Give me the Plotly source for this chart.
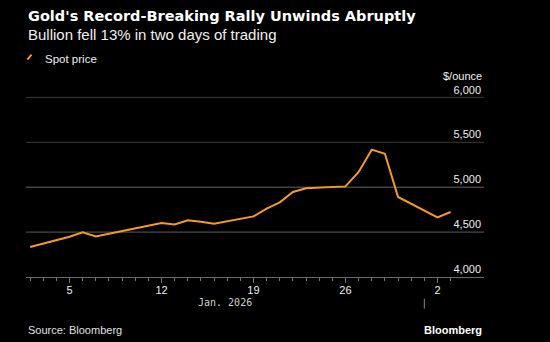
import plotly.graph_objects as go

# ---- data ----
dates = ["2026-01-02", "2026-01-05", "2026-01-06", "2026-01-07", "2026-01-08",
         "2026-01-09", "2026-01-12", "2026-01-13", "2026-01-14", "2026-01-15",
         "2026-01-16", "2026-01-19", "2026-01-20", "2026-01-21", "2026-01-22",
         "2026-01-23", "2026-01-26", "2026-01-27", "2026-01-28", "2026-01-29",
         "2026-01-30", "2026-02-02", "2026-02-03"]
spot_price = [4334, 4449, 4497, 4452, 4482, 4512, 4601, 4586, 4631, 4616,
              4594, 4675, 4761, 4831, 4947, 4987, 5009, 5169, 5418, 5373,
              4891, 4664, 4724]
x_tick_dates = ["2026-01-05", "2026-01-12", "2026-01-19", "2026-01-26", "2026-02-02"]
x_tick_labels = ["5", "12", "19", "26", "2"]
y_tick_vals = [4000, 4500, 5000, 5500, 6000]
y_tick_labels = ["4,000", "4,500", "5,000", "5,500", "6,000"]

ORANGE = "#F59A23"
SANS = "Liberation Sans, Arial, sans-serif"

fig = go.Figure()
fig.add_trace(go.Scatter(x=dates, y=spot_price, mode="lines",
                         line=dict(color=ORANGE, width=2), name="Spot price",
                         showlegend=False, hoverinfo="skip"))

# grid lines
grid_colors = {4500: "#5c5c5c", 5000: "#666666", 5500: "#3a3a3a", 6000: "#3a3a3a"}
shapes = []
for v in y_tick_vals[1:]:
    shapes.append(dict(type="line", xref="paper", x0=0, x1=1, yref="y", y0=v, y1=v,
                       line=dict(color=grid_colors[v], width=1), layer="below"))
# month separator
shapes.append(dict(type="line", xref="x", x0="2026-02-01", x1="2026-02-01",
                   yref="paper", y0=-0.112, y1=-0.163,
                   line=dict(color="#8a8a8a", width=1)))
# legend slash
shapes.append(dict(type="line", xref="paper", x0=0.003, x1=0.012,
                   yref="paper", y0=1.121, y1=1.146,
                   line=dict(color=ORANGE, width=2)))

annotations = [
    dict(text="<b>Gold's Record-Breaking Rally Unwinds Abruptly</b>", xref="paper", yref="paper",
         x=0, y=1.347, xanchor="left", yanchor="middle", showarrow=False,
         font=dict(family="DejaVu Sans, sans-serif", size=14.5, color="#ffffff")),
    dict(text="Bullion fell 13% in two days of trading", xref="paper", yref="paper",
         x=0, y=1.252, xanchor="left", yanchor="middle", showarrow=False,
         font=dict(family=SANS, size=15, color="#f0f0f0")),
    dict(text="Spot price", xref="paper", yref="paper",
         x=0.037, y=1.125, xanchor="left", yanchor="middle", showarrow=False,
         font=dict(family=SANS, size=11.5, color="#f0f0f0")),
    dict(text="$/ounce", xref="paper", yref="paper",
         x=1, y=1.0376, xanchor="right", yanchor="middle", showarrow=False,
         font=dict(family=SANS, size=11, color="#f0f0f0")),
    dict(text="Jan. 2026", xref="x", yref="paper",
         x="2026-01-16 20:00", y=-0.130, xanchor="center", yanchor="middle", showarrow=False,
         font=dict(family="DejaVu Sans Mono, monospace", size=10, color="#d0d0d0")),
    dict(text="Source: Bloomberg", xref="paper", yref="paper",
         x=0, y=-0.275, xanchor="left", yanchor="middle", showarrow=False,
         font=dict(family=SANS, size=11, color="#e0e0e0")),
    dict(text="<b>Bloomberg</b>", xref="paper", yref="paper",
         x=1, y=-0.275, xanchor="right", yanchor="middle", showarrow=False,
         font=dict(family=SANS, size=11, color="#ffffff")),
]

fig.update_layout(
    width=550, height=342,
    margin=dict(l=26, r=66, t=83, b=65),
    paper_bgcolor="#000000", plot_bgcolor="#000000",
    showlegend=False,
    shapes=shapes, annotations=annotations,
    xaxis=dict(
        type="date", range=["2026-01-01 16:30", "2026-02-05 13:00"],
        tickmode="array", tickvals=x_tick_dates, ticktext=x_tick_labels,
        ticks="outside", ticklen=5, tickcolor="#777777", tickwidth=1,
        ticklabelstandoff=-2,
        minor=dict(ticks="outside", ticklen=3, dtick=86400000, tick0="2026-01-01",
                   tickcolor="#777777", tickwidth=1, showgrid=False),
        showline=True, linecolor="#6a6a6a", linewidth=1,
        showgrid=False, zeroline=False,
        tickfont=dict(family=SANS, size=11, color="#eeeeee"),
    ),
    yaxis=dict(
        side="right", range=[4000, 6160],
        tickmode="array", tickvals=y_tick_vals, ticktext=y_tick_labels,
        ticklabelposition="inside top", ticks="",
        showgrid=False, zeroline=False, showline=False,
        tickfont=dict(family=SANS, size=11, color="#eeeeee"),
    ),
)

fig.write_html("out.html")
